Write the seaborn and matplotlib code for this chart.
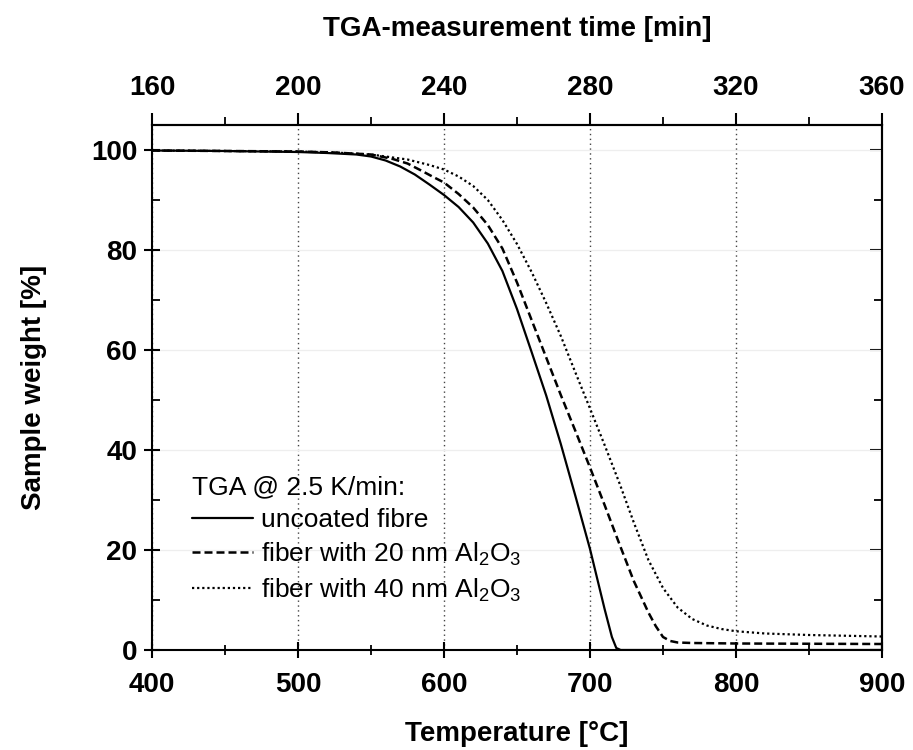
import matplotlib
matplotlib.use("Agg")
import matplotlib.pyplot as plt
from matplotlib.ticker import MultipleLocator, FixedLocator
import seaborn as sns
import pandas as pd

# ---- data (temperature in degC, weight in %) ----
temp_uncoated = [400, 450, 500, 520, 540, 550, 560, 570, 580, 590, 600, 610,
                 620, 630, 640, 650, 660, 670, 680, 690, 700, 710, 715, 718,
                 721, 800, 900]
weight_uncoated = [99.9, 99.8, 99.6, 99.4, 99.1, 98.7, 97.9, 96.7, 95.1, 93.1,
                   91.0, 88.6, 85.5, 81.3, 75.8, 68.2, 59.6, 50.9, 41.2, 30.8,
                   20.2, 8.2, 2.6, 0.4, 0.0, 0.0, 0.0]

temp_20nm = [400, 450, 500, 525, 550, 565, 575, 585, 592, 600, 610, 620, 630,
             640, 650, 660, 670, 680, 690, 700, 710, 720, 730, 740, 745, 750,
             755, 760, 770, 800, 900]
weight_20nm = [99.9, 99.8, 99.7, 99.5, 99.1, 98.2, 97.3, 95.8, 94.7, 93.5,
               91.2, 88.5, 85.0, 80.3, 73.5, 66.0, 58.5, 51.0, 43.8, 36.5,
               29.0, 21.3, 13.8, 7.5, 4.8, 2.6, 1.8, 1.5, 1.4, 1.3, 1.2]

temp_40nm = [400, 450, 500, 525, 550, 575, 590, 600, 610, 620, 630, 640, 650,
             660, 670, 680, 690, 700, 710, 720, 730, 740, 750, 760, 770, 780,
             790, 800, 820, 850, 900]
weight_40nm = [99.9, 99.8, 99.7, 99.5, 99.1, 98.1, 97.0, 96.1, 94.7, 92.8,
               90.0, 86.0, 81.2, 75.6, 69.4, 62.8, 55.5, 48.3, 41.0, 33.5,
               25.5, 18.0, 12.4, 8.5, 6.2, 4.9, 4.2, 3.75, 3.3, 3.0, 2.7]

series_labels = ["uncoated fibre",
                 "fiber with 20 nm Al$_2$O$_3$",
                 "fiber with 40 nm Al$_2$O$_3$"]

heating_rate = 2.5   # K/min
time_at_400 = 160    # min
time_ticks = [160, 200, 240, 280, 320, 360]
time_minor = [180, 220, 260, 300, 340]

sns.set_style("ticks")
plt.rcParams["font.family"] = ["Liberation Sans", "DejaVu Sans"]
plt.rcParams["mathtext.default"] = "regular"
for key in ["text.color", "axes.labelcolor", "xtick.color", "ytick.color", "axes.edgecolor"]:
    plt.rcParams[key] = "black"

fig = plt.figure(figsize=(9.13, 7.5), dpi=100)
ax = fig.add_axes([152 / 913, 100 / 750, 730 / 913, 525 / 750])

frames = [
    pd.DataFrame({"T": temp_uncoated, "w": weight_uncoated}),
    pd.DataFrame({"T": temp_20nm, "w": weight_20nm}),
    pd.DataFrame({"T": temp_40nm, "w": weight_40nm}),
]
styles = [
    dict(linestyle="-", linewidth=1.6),
    dict(linestyle=(0, (3.2, 1.6)), linewidth=1.8),
    dict(linestyle=(0, (1, 1.3)), linewidth=1.6),
]
for df, lab, st in zip(frames, series_labels, styles):
    sns.lineplot(data=df, x="T", y="w", ax=ax, color="black", label=lab, **st)

ax.set_xlim(400, 900)
ax.set_ylim(0, 105)
ax.xaxis.set_major_locator(MultipleLocator(100))
ax.xaxis.set_minor_locator(MultipleLocator(50))
ax.yaxis.set_major_locator(MultipleLocator(20))
ax.yaxis.set_minor_locator(MultipleLocator(10))

# grid: dotted verticals, very faint horizontals
ax.grid(axis="x", which="major", linestyle=(0, (1, 2.5)), color="#444444", linewidth=1.0)
ax.grid(axis="y", which="major", linestyle="-", color="#eeeeee", linewidth=0.9)

for s in ax.spines.values():
    s.set_linewidth(1.5)
    s.set_color("black")

ax.tick_params(axis="x", which="major", direction="inout", length=11, width=1.5, pad=10,
               labelsize=20)
ax.tick_params(axis="x", which="minor", direction="inout", length=7, width=1.3)
ax.tick_params(axis="y", which="major", direction="inout", length=11, width=1.5, pad=5,
               labelsize=20)
ax.tick_params(axis="y", which="minor", direction="in", length=6, width=1.3)
for t in ax.get_xticklabels() + ax.get_yticklabels():
    t.set_fontweight("bold")

ax.set_xlabel("Temperature [°C]", fontsize=20, fontweight="bold", labelpad=17)
ax.set_ylabel("Sample weight [%]", fontsize=20, fontweight="bold", labelpad=32)

# right axis: inward ticks, no labels
ax_r = ax.secondary_yaxis("right")
ax_r.yaxis.set_major_locator(MultipleLocator(20))
ax_r.yaxis.set_minor_locator(MultipleLocator(10))
ax_r.tick_params(which="major", direction="in", length=9, width=1.5, labelright=False)
ax_r.tick_params(which="minor", direction="in", length=6, width=1.3)
ax_r.spines["right"].set_linewidth(1.5)

# top axis: measurement time
ax_t = ax.secondary_xaxis(
    "top",
    functions=(lambda T: time_at_400 + (T - 400) / heating_rate,
               lambda t: 400 + (t - time_at_400) * heating_rate),
)
ax_t.xaxis.set_major_locator(FixedLocator(time_ticks))
ax_t.xaxis.set_minor_locator(FixedLocator(time_minor))
ax_t.tick_params(which="major", direction="out", length=9, width=1.5, pad=8, labelsize=20)
ax_t.tick_params(which="minor", direction="out", length=6, width=1.3)
for t in ax_t.get_xticklabels():
    t.set_fontweight("bold")
ax_t.spines["top"].set_linewidth(1.5)
ax_t.set_xlabel("TGA-measurement time [min]", fontsize=20, fontweight="bold", labelpad=28)

leg = ax.legend(
    title="TGA @ 2.5 K/min:",
    loc="upper left",
    bbox_to_anchor=(0.055, 0.333),
    frameon=False,
    fontsize=19,
    title_fontsize=19,
    handlelength=2.3,
    handletextpad=0.3,
    labelspacing=0.33,
    borderpad=0,
    borderaxespad=0,
    alignment="left",
)

fig.savefig("out.png", dpi=100)
